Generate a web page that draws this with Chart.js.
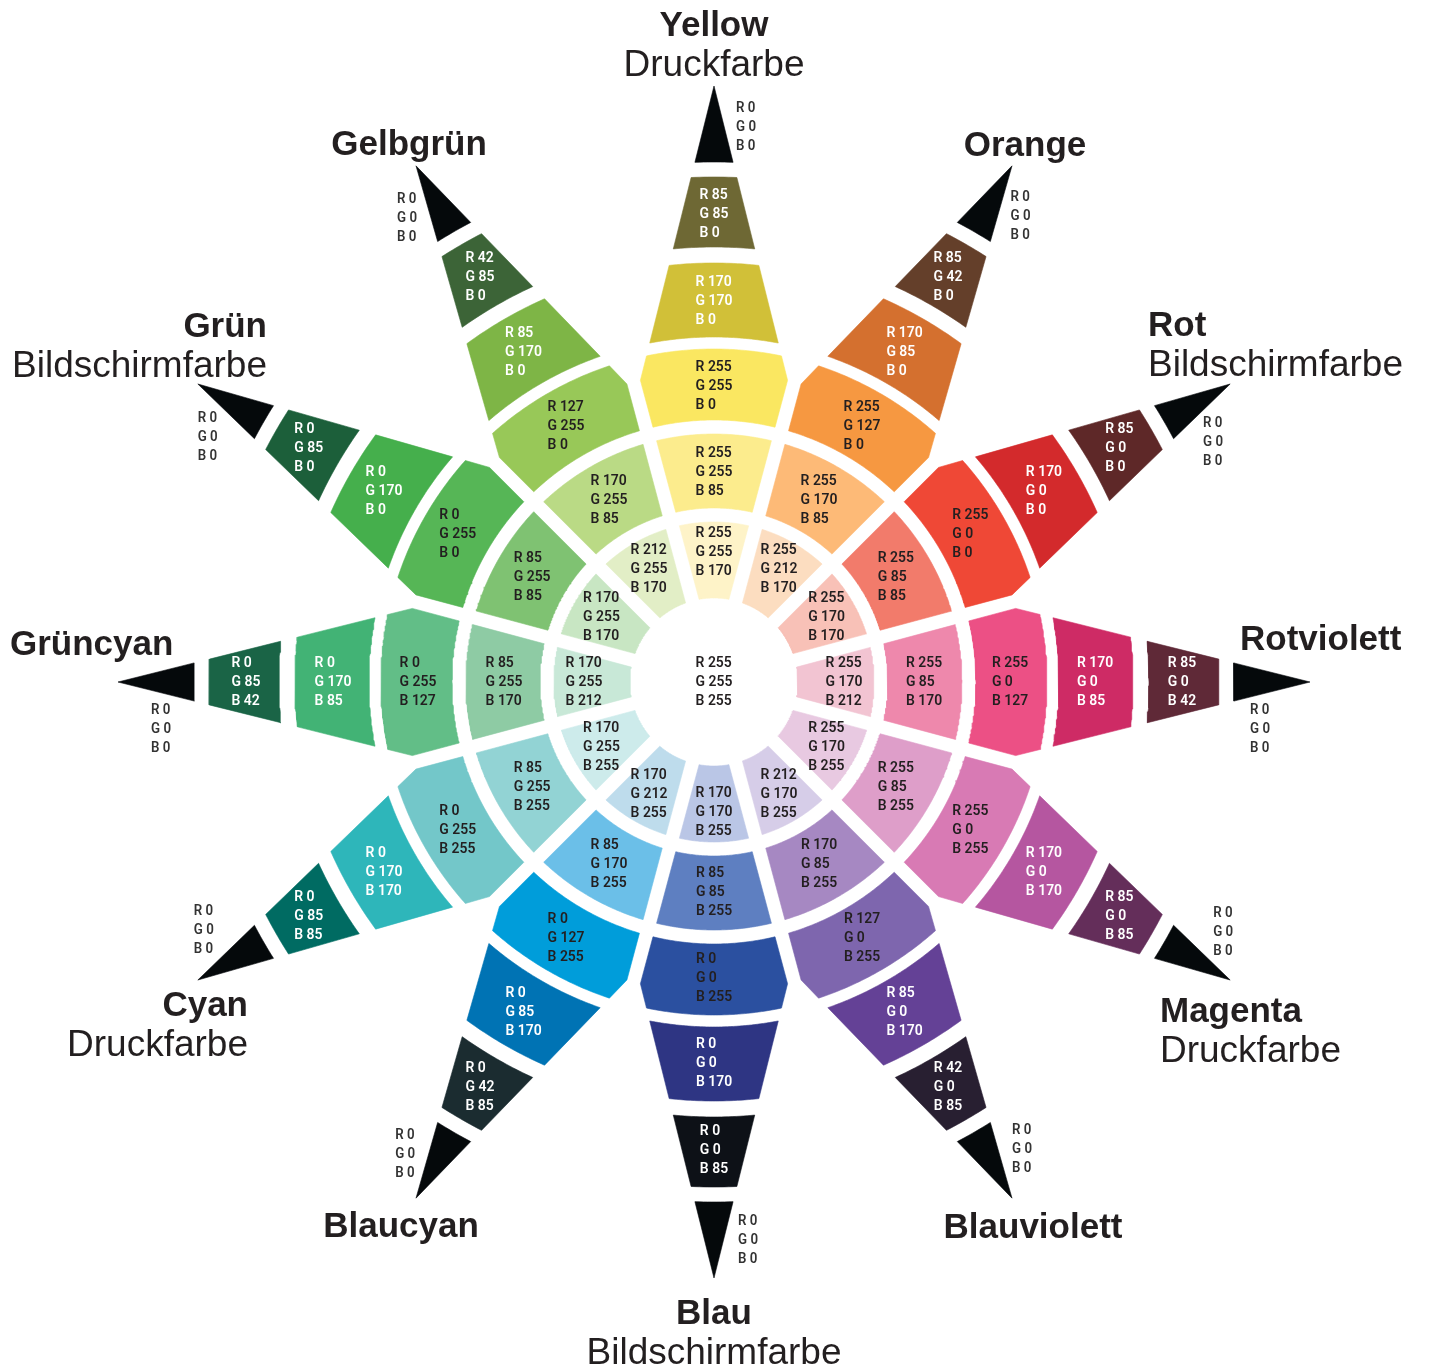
<!DOCTYPE html>
<html><head><meta charset="utf-8">
<script src="https://cdn.jsdelivr.net/npm/chart.js@4.4.1/dist/chart.umd.min.js"></script>
<style>html,body{margin:0;padding:0;background:#fff}#wrap{width:1429px;height:1371px}</style>
</head><body><div id="wrap"><canvas id="c" width="1429" height="1371"></canvas></div>
<script>
// ---------- DATA ----------
const hues = ['Yellow','Orange','Rot','Rotviolett','Magenta','Blauviolett','Blau','Blaucyan','Cyan','Grüncyan','Grün','Gelbgrün'];
const subtitles = ['Druckfarbe','','Bildschirmfarbe','','Druckfarbe','','Bildschirmfarbe','','Druckfarbe','','Bildschirmfarbe',''];
const centerRGB = [255,255,255];
const ring1RGB = [[255,255,170],[255,212,170],[255,170,170],[255,170,212],[255,170,255],[212,170,255],[170,170,255],[170,212,255],[170,255,255],[170,255,212],[170,255,170],[212,255,170]];
const ring2RGB = [[255,255,85],[255,170,85],[255,85,85],[255,85,170],[255,85,255],[170,85,255],[85,85,255],[85,170,255],[85,255,255],[85,255,170],[85,255,85],[170,255,85]];
const ring3RGB = [[255,255,0],[255,127,0],[255,0,0],[255,0,127],[255,0,255],[127,0,255],[0,0,255],[0,127,255],[0,255,255],[0,255,127],[0,255,0],[127,255,0]];
const ring4RGB = [[170,170,0],[170,85,0],[170,0,0],[170,0,85],[170,0,170],[85,0,170],[0,0,170],[0,85,170],[0,170,170],[0,170,85],[0,170,0],[85,170,0]];
const ring5RGB = [[85,85,0],[85,42,0],[85,0,0],[85,0,42],[85,0,85],[42,0,85],[0,0,85],[0,42,85],[0,85,85],[0,85,42],[0,85,0],[42,85,0]];
const tipRGB = [0,0,0];

// ---------- STYLE (display colours as printed) ----------
const ring1Colors = ['#FEF3C8','#FCDDC0','#F8C1B7','#F2C4D2','#E8C9E1','#D6CDE8','#BAC6E6','#BEDCEC','#CDEBEB','#C8E8D7','#C8E6C3','#E2EEC6'];
const ring2Colors = ['#FCEC8D','#FDBA77','#F27B6B','#EE88AC','#DE9EC9','#A688C2','#5E7FC1','#6BBFE8','#92D3D4','#8ECBA4','#7FC272','#BADA85'];
const ring3Colors = ['#FAE761','#F69841','#EF4836','#EC5085','#D87AB4','#7E66AE','#2B50A0','#009DDA','#73C7C9','#62BE87','#56B656','#98C858'];
const ring4Colors = ['#D1C038','#D4702F','#D32A2C','#CE2B65','#B556A0','#644196','#2E3583','#0073B4','#2EB6BA','#42B375','#45AF4C','#7EB546'];
const ring5Colors = ['#6E6834','#643F2A','#5E2828','#5F2937','#642E5A','#281F31','#0D1117','#1B2C30','#006B62','#1A6446','#1C5F3A','#3C6437'];
const tipColor = '#05090B';

// ---------- LAYOUT ----------
const RINGS = [
  {rIn:84,  rOut:160, labelR:130, rgb:ring1RGB, colors:ring1Colors, text:'#231F20'},
  {rIn:174, rOut:248, labelR:210, rgb:ring2RGB, colors:ring2Colors, text:'#231F20'},
  {rIn:262, rOut:333, labelR:296, rgb:ring3RGB, colors:ring3Colors, text:'#231F20'},
  {rIn:345, rOut:419, labelR:381, rgb:ring4RGB, colors:ring4Colors, text:'#FFFFFF'},
  {rIn:435, rOut:505, labelR:468, rgb:ring5RGB, colors:ring5Colors, text:'#FFFFFF'}
];
const TIP = {rIn:520, rOut:596};
const HALF_GAP = 7, STAR_K = 0.25, STAR_TIP = 596;
const TAN15 = Math.tan(Math.PI/12), COS15 = Math.cos(Math.PI/12);
const tipLabelDist = [555,556,552,546,566,559,558,564,566,553,561,555];
const tipLabelOff  = [32,33,42,47,-38,-33,-34,31,40,-47,-41,-34];
const titleLayout = [
  {x:0,y:646,align:'center'},{x:311,y:526,align:'center'},{x:434,y:346,align:'left'},
  {x:526,y:32,align:'left'},{x:446,y:-340,align:'left'},{x:319,y:-556,align:'center'},
  {x:0,y:-642,align:'center'},{x:-313,y:-555,align:'center'},{x:-466,y:-334,align:'right'},
  {x:-704,y:27,align:'left'},{x:-447,y:345,align:'right'},{x:-305,y:527,align:'center'}
];

const hueAngle = i => i * Math.PI / 6; // clockwise from top

function hw(d){ return Math.min(d*TAN15 - HALF_GAP/COS15, (STAR_TIP - d)*STAR_K); }
function solveD(r){
  let lo=0, hi=r;
  for(let k=0;k<60;k++){ const m=(lo+hi)/2; const h=Math.max(hw(m),0); if(m*m+h*h<r*r) lo=m; else hi=m; }
  return (lo+hi)/2;
}
function cellLocal(rIn, rOut){
  const dI=solveD(rIn), dO=solveD(rOut);
  const pI=Math.atan2(Math.max(hw(dI),0), dI), pO=Math.atan2(Math.max(hw(dO),0), dO);
  const dK=(STAR_TIP*STAR_K + HALF_GAP/COS15)/(TAN15+STAR_K);
  const pts=[];
  const arc=(r,a0,a1)=>{ const n=Math.max(2,Math.ceil(Math.abs(a1-a0)/(Math.PI/360)));
    for(let k=0;k<=n;k++){ const a=a0+(a1-a0)*k/n; pts.push([r*Math.cos(a), r*Math.sin(a)]); } };
  arc(rIn,-pI,pI);
  const kink = dK>dI && dK<dO;
  if(kink) pts.push([dK, hw(dK)]);
  arc(rOut,pO,-pO);
  if(kink) pts.push([dK, -hw(dK)]);
  pts.push(pts[0]);
  return pts;
}
function toGlobal(d, x, th){ const s=Math.sin(th), c=Math.cos(th); return {x:d*s + x*c, y:d*c - x*s}; }

const datasets = [];
RINGS.forEach((ring)=>{
  const local = cellLocal(ring.rIn, ring.rOut);
  hues.forEach((h,i)=>{
    datasets.push({label:h, data: local.map(p=>toGlobal(p[0],p[1],hueAngle(i))),
      backgroundColor:ring.colors[i], borderColor:ring.colors[i], borderWidth:0.6,
      fill:'shape', pointRadius:0, tension:0});
  });
});
const tipLocal = cellLocal(TIP.rIn, TIP.rOut);
hues.forEach((h,i)=>{
  datasets.push({label:h+' tip', data: tipLocal.map(p=>toGlobal(p[0],p[1],hueAngle(i))),
    backgroundColor:tipColor, borderColor:tipColor, borderWidth:0.6, fill:'shape', pointRadius:0, tension:0});
});

function rgbLines(v){ return ['R '+v[0],'G '+v[1],'B '+v[2]]; }
function drawBlock(ctx, lines, cx, cy, font, color, lh, sx){
  ctx.save(); ctx.font=font; ctx.fillStyle=color; ctx.textBaseline='middle'; ctx.textAlign='left';
  const w=Math.max(...lines.map(l=>ctx.measureText(l).width))*sx;
  lines.forEach((l,k)=>{ ctx.save(); ctx.translate(cx-w/2, cy+(k-(lines.length-1)/2)*lh); ctx.scale(sx,1); ctx.fillText(l,0,0); ctx.restore(); });
  ctx.restore();
}

const labelPlugin = {
  id:'starLabels',
  afterDatasetsDraw(chart){
    const {ctx, scales:{x, y}} = chart;
    const P = (vx,vy)=>[x.getPixelForValue(vx), y.getPixelForValue(vy)];
    const cellFont = '600 15.5px Roboto, "DejaVu Sans", sans-serif';
    let [cx,cy]=P(0,0);
    drawBlock(ctx, rgbLines(centerRGB), cx, cy, cellFont, '#231F20', 19, 0.9);
    RINGS.forEach(ring=>{
      hues.forEach((h,i)=>{
        const g=toGlobal(ring.labelR,0,hueAngle(i));
        const [px,py]=P(g.x,g.y);
        drawBlock(ctx, rgbLines(ring.rgb[i]), px, py, cellFont, ring.text, 19, 0.9);
      });
    });
    hues.forEach((h,i)=>{
      const g=toGlobal(tipLabelDist[i], tipLabelOff[i], hueAngle(i));
      const [px,py]=P(g.x,g.y);
      drawBlock(ctx, rgbLines(tipRGB), px, py, '600 14px Roboto, "DejaVu Sans", sans-serif', '#333333', 19, 0.95);
    });
    hues.forEach((h,i)=>{
      const t=titleLayout[i];
      const [px,py]=P(t.x,t.y);
      ctx.save();
      ctx.fillStyle='#231F20'; ctx.textAlign=t.align; ctx.textBaseline='alphabetic';
      ctx.font='bold 35px "Liberation Sans", Arial, sans-serif';
      ctx.fillText(h, px, py);
      if(subtitles[i]){
        ctx.font='37px "Liberation Sans", Arial, sans-serif';
        ctx.fillText(subtitles[i], px, py+40);
      }
      ctx.restore();
    });
  }
};

new Chart(document.getElementById('c'), {
  type:'line',
  data:{datasets},
  options:{
    responsive:false, maintainAspectRatio:false, animation:false, events:[],
    layout:{padding:0},
    plugins:{legend:{display:false}, tooltip:{enabled:false}},
    scales:{
      x:{type:'linear', min:-714, max:715, display:false},
      y:{type:'linear', min:-689, max:682, display:false}
    }
  },
  plugins:[labelPlugin]
});
</script>
</body></html>
